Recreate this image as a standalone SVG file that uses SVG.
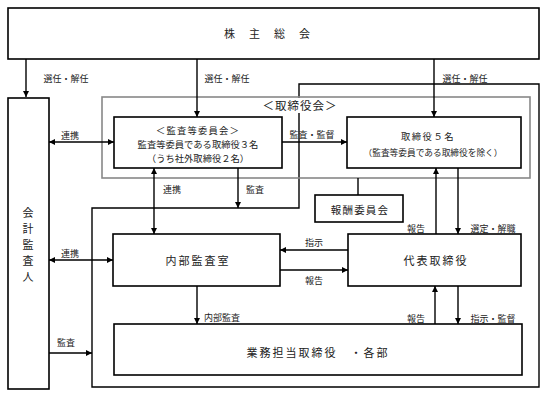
<svg xmlns="http://www.w3.org/2000/svg" width="548" height="395" viewBox="0 0 548 395">
<style>
.box{fill:#fff;stroke:#000;stroke-width:1.6}
.ln{fill:none;stroke:#000;stroke-width:1.4}
.t{font-family:"Noto Sans CJK JP","Noto Sans",sans-serif;fill:#222;text-anchor:middle;dominant-baseline:central}
.s{font-size:9px}
.m{font-size:9.3px}
.b{font-size:11px;letter-spacing:2px}
</style>
<defs>
<marker id="ah" markerUnits="userSpaceOnUse" markerWidth="7" markerHeight="7" refX="6" refY="3" orient="auto-start-reverse">
<path d="M0,0 L6,3 L0,6 z" fill="#000"/>
</marker>
</defs>
<rect width="548" height="395" fill="#fff"/>
<g id="frame">
<polygon class="ln" points="299,84 539,84 539,387 92,387 92,208 299,208"/>
</g>
<g id="board">
<rect x="102" y="97" width="428" height="81" fill="none" stroke="#888" stroke-width="1.6"/>
<rect x="262" y="98" width="76" height="15" fill="#fff"/>
<text class="t" x="300" y="105" font-size="11.5" letter-spacing="1">＜取締役会＞</text>
</g>
<g id="connectors">
<line class="ln" x1="26" y1="59" x2="26" y2="97" marker-end="url(#ah)"/>
<line class="ln" x1="197" y1="59" x2="197" y2="117" marker-end="url(#ah)"/>
<line class="ln" x1="434" y1="59" x2="434" y2="117" marker-end="url(#ah)"/>
<line class="ln" x1="49" y1="142" x2="114" y2="142" marker-start="url(#ah)" marker-end="url(#ah)"/>
<line class="ln" x1="282" y1="142" x2="347" y2="142" marker-end="url(#ah)"/>
<line class="ln" x1="154" y1="168" x2="154" y2="234" marker-start="url(#ah)" marker-end="url(#ah)"/>
<line class="ln" x1="238" y1="168" x2="238" y2="208" marker-end="url(#ah)"/>
<line class="ln" x1="358" y1="178" x2="358" y2="195"/>
<line class="ln" x1="49" y1="260" x2="113" y2="260" marker-start="url(#ah)" marker-end="url(#ah)"/>
<line class="ln" x1="348" y1="250" x2="280" y2="250" marker-end="url(#ah)"/>
<line class="ln" x1="280" y1="270" x2="348" y2="270" marker-end="url(#ah)"/>
<line class="ln" x1="436" y1="234" x2="436" y2="168" marker-end="url(#ah)"/>
<line class="ln" x1="458" y1="168" x2="458" y2="234" marker-end="url(#ah)"/>
<line class="ln" x1="197" y1="286" x2="197" y2="324" marker-end="url(#ah)"/>
<line class="ln" x1="435" y1="324" x2="435" y2="286" marker-end="url(#ah)"/>
<line class="ln" x1="458" y1="286" x2="458" y2="324" marker-end="url(#ah)"/>
<line class="ln" x1="49" y1="353" x2="92" y2="353" marker-end="url(#ah)"/>
<text class="t s" x="66" y="78">選任・解任</text>
<text class="t s" x="227" y="78">選任・解任</text>
<text class="t s" x="465" y="78">選任・解任</text>
<text class="t s" x="70" y="135">連携</text>
<text class="t s" x="312" y="134">監査・監督</text>
<text class="t s" x="172" y="189">連携</text>
<text class="t s" x="255" y="189">監査</text>
<text class="t s" x="70" y="253">連携</text>
<text class="t s" x="314" y="242">指示</text>
<text class="t s" x="314" y="280">報告</text>
<text class="t s" x="416" y="228">報告</text>
<text class="t s" x="493" y="228">選定・解職</text>
<text class="t s" x="222" y="317">内部監査</text>
<text class="t s" x="416" y="318">報告</text>
<text class="t s" x="493" y="318">指示・監督</text>
<text class="t s" x="66" y="342">監査</text>
</g>
<g id="shareholders">
<rect class="box" x="8" y="8" width="531" height="51"/>
<text class="t" x="274" y="33" font-size="11" letter-spacing="14">株主総会</text>
</g>
<g id="auditor">
<rect class="box" x="8" y="98" width="41" height="291"/>
<text class="t" x="28" y="212" font-size="11">会</text>
<text class="t" x="28" y="228" font-size="11">計</text>
<text class="t" x="28" y="244" font-size="11">監</text>
<text class="t" x="28" y="260" font-size="11">査</text>
<text class="t" x="28" y="276" font-size="11">人</text>
</g>
<g id="audit-committee">
<rect class="box" x="114" y="117" width="168" height="51"/>
<text class="t m" x="198" y="130" letter-spacing="1.2">＜監査等委員会＞</text>
<text class="t m" x="198" y="144">監査等委員である取締役３名</text>
<text class="t m" x="198" y="158">（うち社外取締役２名）</text>
</g>
<g id="directors">
<rect class="box" x="347" y="117" width="174" height="51"/>
<text class="t m" x="428" y="136" letter-spacing="1.5">取締役５名</text>
<text class="t" x="433" y="152" font-size="8.7">（監査等委員である取締役を除く）</text>
</g>
<g id="compensation">
<rect class="box" x="315" y="195" width="88" height="27"/>
<text class="t" x="360" y="209" font-size="10.5" letter-spacing="1.2">報酬委員会</text>
</g>
<g id="internal-audit">
<rect class="box" x="113" y="234" width="167" height="52"/>
<text class="t b" x="198" y="260">内部監査室</text>
</g>
<g id="ceo">
<rect class="box" x="348" y="234" width="173" height="52"/>
<text class="t b" x="436" y="260">代表取締役</text>
</g>
<g id="departments">
<rect class="box" x="114" y="324" width="408" height="51"/>
<text class="t" x="318" y="352" font-size="11" letter-spacing="2">業務担当取締役　・各部</text>
</g>
</svg>
